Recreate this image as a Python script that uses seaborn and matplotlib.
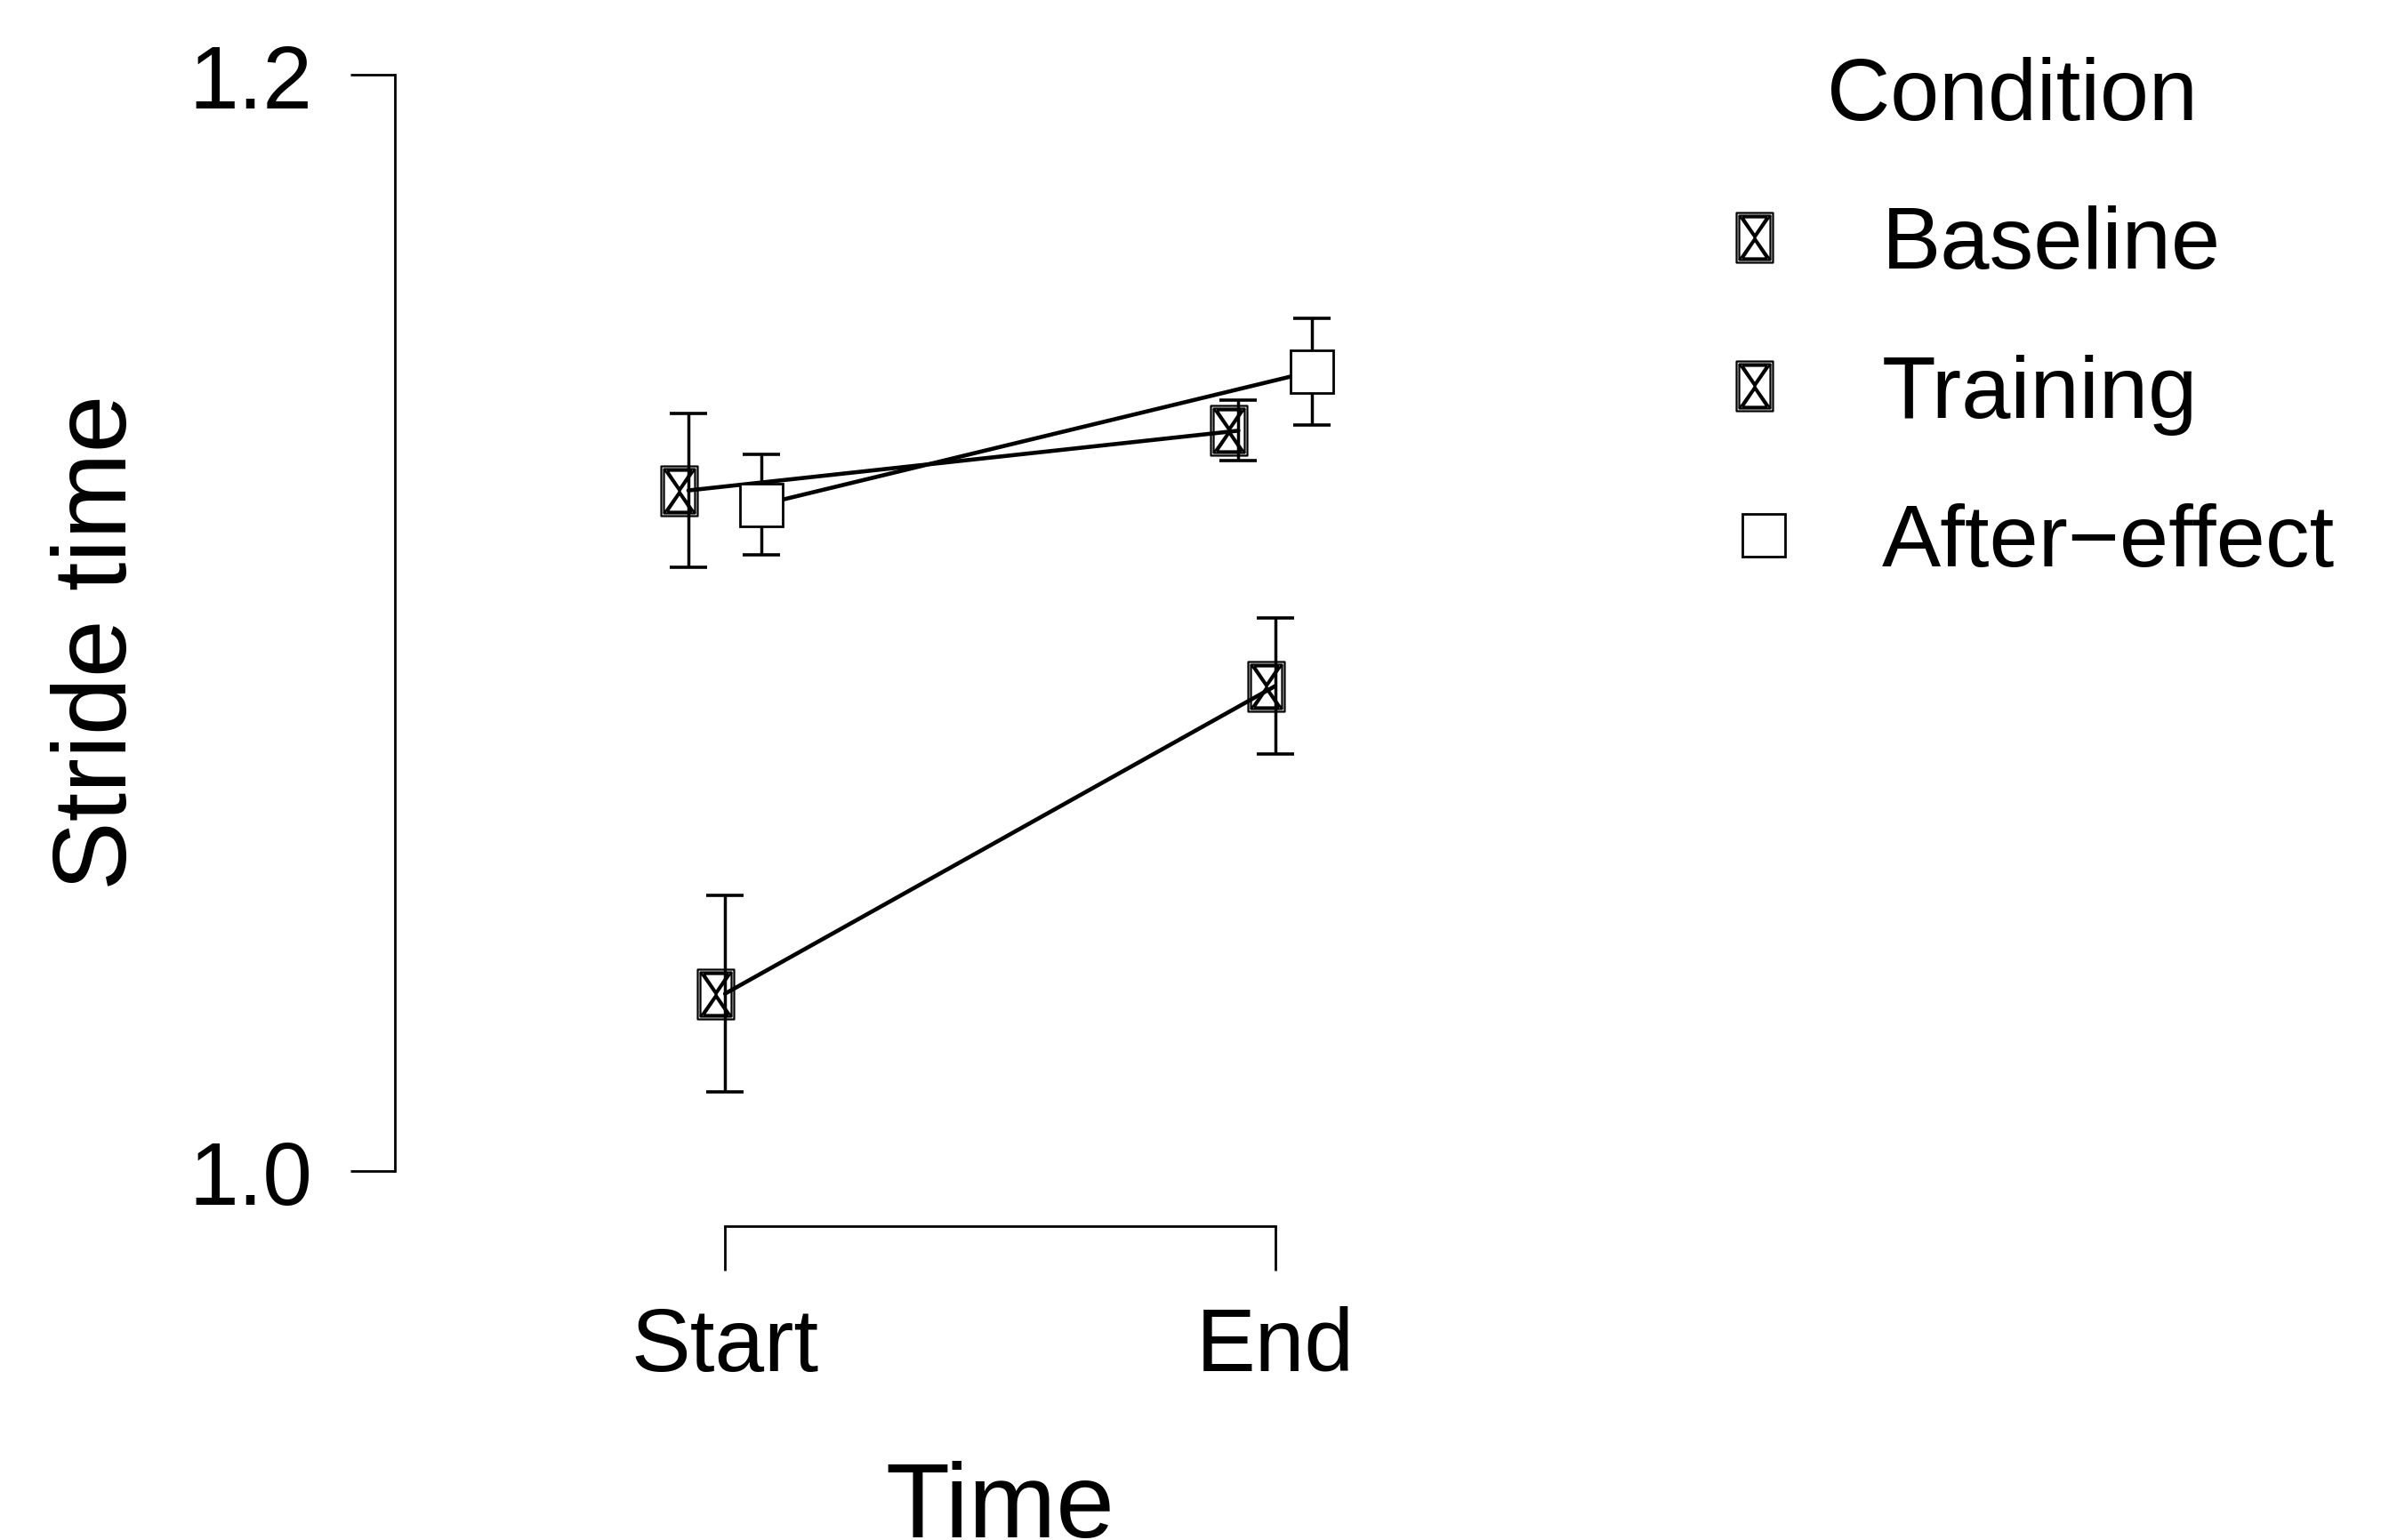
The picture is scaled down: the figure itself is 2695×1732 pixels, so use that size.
import numpy as np
import pandas as pd
import matplotlib
matplotlib.use("Agg")
import matplotlib.pyplot as plt
from matplotlib.path import Path
from matplotlib.lines import Line2D
import seaborn as sns

# summary values (mean and half-width of the error bar)
times = ["Start", "End"]
conditions = ["Baseline", "Training", "After\u2212effect"]
baseline_mean = [1.1242, 1.1351]
baseline_err = [0.0140, 0.0055]
training_mean = [1.0324, 1.0885]
training_err = [0.0179, 0.0124]
after_mean = [1.1216, 1.1459]
after_err = [0.0092, 0.0097]
y_ticks = [1.0, 1.2]

means = [baseline_mean, training_mean, after_mean]
errs = [baseline_err, training_err, after_err]
df = pd.DataFrame({
    "Time": np.tile(times, len(conditions)),
    "Condition": np.repeat(conditions, len(times)),
    "mean": np.concatenate(means),
    "err": np.concatenate(errs),
})

# the "missing glyph" box marker: double frame with an hourglass cross,
# drawn a little left of the point like in the original
def glyph_box():
    verts, codes = [], []
    def poly(pts):
        verts.extend(pts + [pts[0]])
        codes.extend([Path.MOVETO] + [Path.LINETO] * (len(pts) - 1) + [Path.CLOSEPOLY])
    def seg(a, b):
        verts.extend([a, b])
        codes.extend([Path.MOVETO, Path.LINETO])
    poly([(-31, -28), (10, -28), (10, 28), (-31, 28)])
    poly([(-28, -25), (7, -25), (7, 25), (-28, 25)])
    seg((-28, 25), (7, -25))
    seg((-28, -25), (7, 25))
    poly([(-24, 23), (3, 23), (-10.5, 3)])
    poly([(-24, -23), (3, -23), (-10.5, -3)])
    return Path(verts, codes)

glyph = glyph_box()
marker_map = {"Baseline": glyph, "Training": glyph, "After\u2212effect": "s"}
size_map = {"Baseline": 44.6, "Training": 44.6, "After\u2212effect": 34.6}
face_map = {"Baseline": "none", "Training": "none", "After\u2212effect": "white"}
mew_map = {"Baseline": 1.6, "Training": 1.6, "After\u2212effect": 2.0}

sns.set_style("ticks")
plt.rcParams["font.family"] = ["Liberation Sans", "DejaVu Sans"]
plt.rcParams["text.color"] = "black"
plt.rcParams["axes.labelcolor"] = "black"

fig = plt.figure(figsize=(26.95, 17.33), dpi=100)
ax = fig.add_axes([0.1648, 0.2037, 0.5048, 0.7827])

dodge = 0.2 / 3 * 2
sns.pointplot(data=df, x="Time", y="mean", hue="Condition", order=times,
              hue_order=conditions, palette=["black"] * 3, errorbar=None,
              markers=[marker_map[c] for c in conditions], linestyles="-",
              dodge=dodge, linewidth=3.3, legend=False, ax=ax)

for line, c in zip(ax.lines, conditions):
    line.set_markersize(size_map[c])
    line.set_markerfacecolor(face_map[c])
    line.set_markeredgewidth(mew_map[c])
    line.set_zorder(3)

# error bars at the same dodged positions
for i, c in enumerate(conditions):
    sub = df[df["Condition"] == c]
    offset = -dodge / 2 + dodge / 2 * i
    xpos = np.array([times.index(t) for t in sub["Time"]]) + offset
    ax.errorbar(xpos, sub["mean"], yerr=sub["err"], fmt="none", ecolor="black",
                elinewidth=2.5, capsize=14.8, capthick=2.6, zorder=2)

ax.set_xlim(-0.6, 1.6)
ax.set_ylim(0.99, 1.21)
ax.set_yticks(y_ticks)
ax.set_yticklabels([f"{v:.1f}" for v in y_ticks])
sns.despine(ax=ax)
ax.spines["left"].set_bounds(1.0, 1.2)
ax.spines["bottom"].set_bounds(0, 1)
for s in ["left", "bottom"]:
    ax.spines[s].set_linewidth(2.0)
    ax.spines[s].set_color("black")
ax.tick_params(axis="both", length=36, width=2.0, labelsize=72, colors="black")
ax.tick_params(axis="x", pad=28)
ax.tick_params(axis="y", pad=31)

ax.set_xlabel("Time", fontsize=85)
ax.set_ylabel("Stride time", fontsize=84)
ax.xaxis.label.set_verticalalignment("baseline")
ax.yaxis.label.set_verticalalignment("baseline")
ax.xaxis.set_label_coords(0.5, -0.257)
ax.yaxis.set_label_coords(-0.2222, 0.4851)

handles = [Line2D([], [], linestyle="none", marker=marker_map[c], markersize=size_map[c],
                  markerfacecolor=face_map[c], markeredgecolor="black",
                  markeredgewidth=mew_map[c]) for c in conditions]
leg = fig.legend(handles, conditions, title="Condition", loc="upper left",
                 bbox_to_anchor=(1933.4 / 2695, 1 - 64 / 1733), frameon=False,
                 fontsize=71.5, title_fontsize=71, borderpad=0, borderaxespad=0,
                 handlelength=1.0, handletextpad=0.84, labelspacing=0.77)
# nudge the title a bit left, as in the original
leg.get_title().set_position((-17, 0))

fig.savefig("out.png", dpi=100)
